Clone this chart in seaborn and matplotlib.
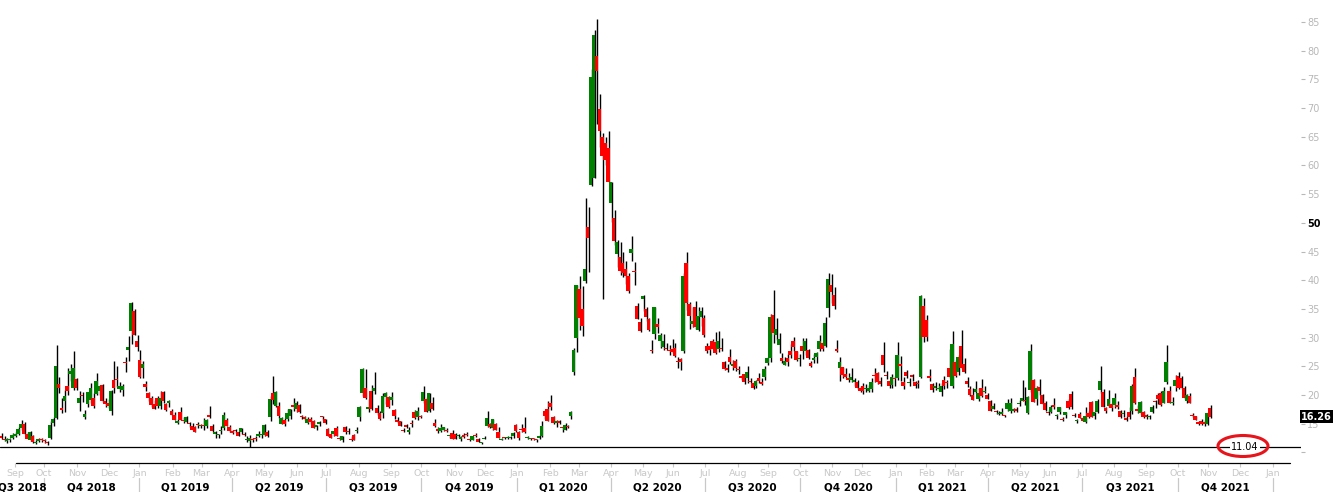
import numpy as np
import pandas as pd
import seaborn as sns
import matplotlib.pyplot as plt
import matplotlib.transforms as mtransforms
from matplotlib.patches import Ellipse
from matplotlib.lines import Line2D

# one candle every second business day, starting 20 Aug 2018
start_date = '2018-08-20'
step = 2

opens = [
    12.8, 12.4, 12.0, 12.2, 12.6,
    12.9, 13.3, 14.2, 14.9, 13.3, 12.1, 12.8, 11.6, 12.0, 12.3,
    12.1, 11.7, 12.5, 15.2, 16.0, 22.0, 17.8, 18.9, 21.6, 23.6, 21.3, 22.8,
    18.6, 20.1, 16.2, 18.4, 19.1, 19.5, 20.2, 20.8, 21.7, 19.0, 18.6,
    17.2, 22.7, 22.8, 21.0, 20.9, 25.8, 27.9, 31.2, 34.6, 29.4,
    26.2, 24.8, 22.0, 20.3, 19.5, 18.5, 19.5, 18.1, 20.5, 18.5, 18.6, 17.2,
    16.6, 15.2, 17.0, 15.6, 15.3, 15.0, 14.6, 14.4, 15.0, 14.6,
    14.8, 14.7, 16.6, 14.7, 13.3, 13.0, 13.7, 14.3, 15.7, 14.4,
    13.7, 14.0, 13.6, 13.5, 13.3, 12.1, 12.0, 12.2, 12.6, 12.9, 13.0,
    13.1, 13.6, 16.1, 20.3, 18.1, 18.1, 15.0, 15.6, 15.9, 16.4, 18.2, 17.6,
    18.3, 16.4, 16.0, 15.2, 15.9, 15.4, 14.4, 15.0, 16.3, 15.8,
    14.1, 13.2, 13.3, 14.2, 12.6, 12.2, 14.4, 13.6, 12.3, 13.1, 13.7,
    16.1, 20.3, 21.3, 17.5, 20.8, 20.8, 17.8, 16.9, 16.8, 19.6, 19.6,
    19.2, 17.4, 15.6, 15.4, 13.8, 14.8, 13.6, 15.2, 17.0, 16.1, 16.3,
    18.9, 19.4, 17.2, 18.6, 15.2, 14.1, 13.8, 14.0, 13.9, 12.8, 13.4,
    13.2, 12.9, 12.4, 13.0, 13.2, 12.4, 12.2, 13.0, 12.3, 11.6, 12.3,
    14.6, 14.9, 14.2, 15.0, 13.6, 12.2, 12.6, 12.5, 12.5, 12.9, 14.8,
    13.5, 14.0, 14.3, 12.5, 12.3, 12.4, 12.2, 12.5, 12.9, 17.2, 17.5,
    18.6, 16.1, 15.1, 15.4, 14.4, 14.0, 14.6, 16.3, 24.0, 30.0,
    38.5, 35.0, 39.9, 49.3, 56.6, 57.8, 79.0, 69.9, 64.9, 64.0, 63.0,
    53.5, 50.9, 44.5, 44.1, 43.0, 41.9, 40.8, 44.7, 41.6, 35.6, 32.8,
    36.8, 35.0, 33.2, 27.9, 30.6, 32.3, 29.4, 28.4, 28.2, 27.8, 28.0,
    28.2, 26.0, 26.3, 27.6, 43.0, 35.8, 32.4, 35.3, 31.4, 33.6, 33.5,
    28.6, 28.5, 29.4, 29.3, 28.0, 28.2, 25.7, 24.8, 26.7, 25.0, 26.0,
    24.6, 23.3, 23.6, 23.0, 22.4, 22.1, 21.6, 23.0, 22.3, 23.2, 25.6,
    26.4, 33.9, 30.4, 28.7, 26.5, 25.3, 26.5, 27.6, 29.5, 27.6, 26.3,
    28.6, 27.7, 27.8, 25.6, 26.1, 26.6, 28.0, 29.0, 28.6, 35.2, 39.2,
    37.5, 28.0, 24.8, 24.9, 23.6, 23.0, 22.7, 22.2, 22.3, 21.3,
    21.5, 21.1, 20.7, 21.0, 23.5, 23.8, 22.5, 27.0, 23.4, 22.5, 21.7, 22.9,
    23.0, 25.5, 22.3, 24.0, 22.1, 23.5, 22.3, 22.0, 23.1, 35.6,
    33.1, 23.4, 21.9, 21.3, 21.1, 20.6, 22.6, 22.3, 24.8, 21.5,
    25.8, 24.1, 28.6, 25.5, 22.5, 21.0, 20.0, 20.5, 19.3, 21.3, 20.6, 20.0,
    18.9, 17.6, 17.3, 16.7, 16.7, 16.5, 17.6, 17.3, 17.2, 17.6, 18.4,
    19.0, 19.2, 16.8, 20.9, 22.7, 19.4, 21.4, 20.1, 18.6, 16.9,
    17.1, 18.1, 16.3, 17.1, 15.7, 16.5, 18.9, 20.2, 16.5, 15.5, 16.7,
    16.0, 15.3, 16.8, 18.8, 16.3, 17.1, 20.9, 20.5, 17.8, 18.1, 18.5,
    18.3, 18.3, 17.2, 16.7, 16.0, 17.0, 17.2, 23.1, 17.6, 16.8, 17.0,
    16.5, 16.2, 17.0, 18.9, 20.1, 20.3, 18.7, 22.3, 20.8, 18.6, 21.5,
    23.3, 22.9, 21.2, 18.9, 19.9, 16.6, 16.3, 15.3, 15.5, 15.3, 15.0,
    17.7,
]

highs = [
    13.4, 12.9, 12.6, 12.6, 13.4,
    13.6, 14.4, 15.6, 15.3, 13.6, 13.7, 13.0, 12.1, 12.6, 12.6,
    12.3, 12.0, 15.5, 16.2, 28.8, 23.2, 19.5, 20.9, 24.8, 25.4, 27.6, 23.0,
    20.7, 20.6, 17.4, 20.6, 22.1, 20.3, 23.8, 21.7, 22.0, 19.5, 19.3,
    20.9, 25.9, 25.0, 22.3, 21.9, 26.6, 30.3, 36.2, 35.0, 30.4,
    27.9, 25.9, 22.5, 20.6, 19.8, 19.1, 19.8, 20.8, 20.8, 18.7, 19.2, 17.6,
    17.1, 15.8, 17.9, 16.1, 16.4, 15.3, 15.1, 14.7, 15.3, 15.0,
    16.0, 15.8, 18.1, 14.9, 13.7, 13.3, 14.6, 17.0, 16.0, 14.8,
    13.9, 14.1, 13.8, 14.3, 13.5, 12.9, 13.0, 12.5, 12.9, 13.7, 13.2,
    14.9, 13.9, 19.8, 23.4, 20.8, 18.8, 16.2, 16.0, 17.6, 17.6, 19.5, 19.0,
    18.5, 16.6, 16.3, 16.1, 16.2, 15.7, 14.8, 15.4, 16.4, 15.9,
    14.3, 13.3, 13.8, 14.6, 12.8, 12.9, 14.6, 14.2, 12.9, 13.2, 14.5,
    18.1, 24.8, 24.6, 19.3, 21.7, 24.1, 18.2, 17.2, 20.4, 20.5, 19.8,
    20.6, 17.5, 16.2, 15.5, 14.2, 15.0, 14.4, 15.6, 17.4, 17.9, 16.6,
    21.5, 19.6, 20.4, 19.6, 15.9, 14.4, 15.0, 14.5, 14.2, 13.2, 14.0,
    13.4, 13.2, 12.8, 13.4, 13.5, 12.5, 12.9, 13.4, 12.5, 11.9, 12.9,
    17.3, 15.1, 15.9, 15.2, 14.5, 12.5, 12.7, 12.9, 12.8, 13.5, 14.9,
    13.7, 15.0, 16.2, 12.8, 12.6, 12.5, 12.4, 13.0, 15.5, 17.4, 19.0,
    20.0, 16.4, 15.6, 15.6, 14.7, 15.1, 14.8, 17.2, 28.2, 39.2,
    40.8, 39.0, 54.4, 52.8, 76.8, 83.6, 85.5, 72.4, 65.7, 65.0, 66.0,
    57.2, 52.3, 47.0, 46.6, 44.9, 43.3, 41.2, 47.8, 43.1, 36.1, 33.4,
    37.5, 35.3, 33.4, 29.6, 35.3, 33.4, 30.9, 30.6, 29.0, 28.8, 29.8,
    29.0, 26.7, 26.4, 41.2, 44.9, 36.3, 35.4, 36.4, 35.4, 35.4, 33.9,
    29.1, 28.7, 29.8, 31.0, 31.1, 29.9, 26.0, 25.4, 28.0, 26.2, 26.3,
    25.0, 23.5, 23.6, 25.0, 23.0, 22.3, 22.7, 23.9, 23.0, 25.0, 26.6,
    34.2, 38.3, 33.5, 30.8, 27.4, 26.6, 27.2, 28.9, 30.2, 27.6, 27.2,
    29.9, 29.9, 28.1, 26.0, 27.1, 27.5, 30.4, 29.2, 33.6, 41.2, 41.1,
    38.9, 29.6, 26.7, 24.9, 24.7, 23.8, 24.7, 23.0, 22.6, 21.5,
    22.1, 21.9, 21.7, 23.0, 24.7, 24.0, 23.2, 29.3, 24.2, 22.6, 23.7, 23.3,
    29.2, 26.8, 23.1, 24.3, 23.0, 23.7, 22.4, 22.6, 37.5, 36.9,
    34.0, 24.5, 22.1, 22.2, 22.1, 22.1, 23.4, 22.6, 28.0, 31.2,
    26.2, 26.9, 31.3, 26.5, 23.1, 21.5, 21.3, 22.4, 21.3, 22.8, 21.5, 20.3,
    19.1, 18.7, 17.4, 17.3, 17.7, 16.6, 19.4, 19.5, 17.7, 18.0, 19.1,
    22.6, 21.4, 19.8, 28.9, 22.8, 21.5, 22.8, 20.2, 18.9, 17.4,
    18.2, 19.5, 16.7, 18.0, 16.1, 17.1, 19.4, 20.7, 16.9, 15.9, 17.0,
    16.2, 17.9, 17.2, 19.0, 17.1, 19.4, 25.1, 21.0, 17.9, 20.9, 18.6,
    20.3, 19.0, 17.4, 17.4, 16.3, 17.9, 22.0, 24.7, 18.2, 19.0, 17.2,
    16.7, 16.6, 18.3, 19.2, 20.3, 20.8, 21.4, 28.8, 21.5, 19.6, 23.5,
    24.1, 23.3, 21.5, 20.2, 20.3, 16.9, 16.4, 15.4, 15.8, 15.6, 17.0,
    18.2,
]

lows = [
    12.4, 12.0, 11.7, 11.9, 12.4,
    12.7, 13.1, 13.9, 13.2, 12.3, 12.0, 11.6, 11.5, 11.9, 11.8,
    11.6, 11.3, 12.4, 14.7, 15.9, 20.3, 16.9, 17.1, 20.1, 22.4, 20.9, 20.9,
    17.3, 18.8, 15.9, 17.9, 18.7, 17.8, 20.0, 20.1, 18.8, 18.0, 17.8,
    16.6, 20.3, 21.4, 20.5, 19.8, 24.1, 25.9, 28.9, 30.4, 27.7,
    23.0, 23.0, 20.7, 19.0, 18.0, 17.5, 17.7, 17.6, 18.6, 17.2, 18.0, 16.5,
    15.6, 14.9, 15.7, 15.1, 15.1, 14.4, 14.0, 13.5, 14.3, 14.2,
    14.0, 14.3, 16.0, 13.6, 12.6, 12.6, 13.2, 13.9, 14.6, 13.6,
    13.2, 13.4, 12.8, 13.2, 12.8, 11.9, 11.0, 11.9, 12.0, 12.7, 12.6,
    12.8, 12.7, 15.4, 18.5, 17.9, 16.0, 14.9, 14.7, 15.5, 15.9, 17.3, 17.0,
    16.9, 15.8, 15.7, 15.0, 15.0, 14.3, 14.0, 14.6, 15.6, 14.9,
    12.9, 12.5, 12.9, 12.9, 12.2, 11.9, 13.3, 13.2, 12.0, 12.2, 13.4,
    15.5, 19.9, 19.4, 17.1, 17.4, 20.2, 16.5, 15.6, 16.0, 18.5, 17.8,
    18.2, 15.8, 15.1, 14.6, 13.5, 14.3, 13.3, 14.5, 15.8, 15.7, 16.0,
    18.6, 17.0, 17.1, 17.4, 14.5, 13.4, 13.5, 13.7, 13.6, 12.6, 12.3,
    12.3, 12.6, 12.0, 12.6, 12.9, 12.0, 12.1, 12.7, 11.8, 11.5, 12.3,
    14.5, 14.3, 13.9, 14.0, 12.5, 12.1, 12.3, 12.4, 12.3, 12.6, 13.6,
    12.2, 13.5, 13.4, 12.4, 12.2, 12.2, 11.9, 12.4, 12.7, 15.9, 15.4,
    17.4, 14.9, 14.5, 14.9, 13.6, 13.9, 14.2, 15.9, 23.5, 27.5,
    31.4, 30.3, 39.6, 41.4, 56.5, 57.8, 67.3, 63.3, 36.8, 60.0, 57.1,
    50.1, 46.2, 42.3, 41.0, 40.5, 39.3, 37.8, 43.3, 39.2, 33.3, 31.0,
    34.6, 32.9, 31.1, 27.4, 29.8, 30.9, 28.2, 27.8, 27.8, 27.0, 27.4,
    26.6, 24.7, 24.3, 27.3, 34.9, 31.5, 31.9, 31.5, 31.1, 32.1, 30.2,
    27.3, 26.9, 28.0, 27.2, 27.5, 27.6, 24.4, 24.1, 25.4, 24.3, 24.2,
    23.7, 22.6, 22.0, 22.1, 22.1, 21.0, 21.2, 22.1, 21.8, 22.6, 25.2,
    25.8, 29.0, 29.6, 27.4, 25.6, 25.2, 25.0, 26.5, 27.7, 25.9, 25.1,
    26.3, 26.9, 26.3, 24.9, 25.6, 25.6, 27.6, 27.6, 28.3, 33.6, 36.0,
    35.0, 27.5, 22.4, 23.0, 22.9, 22.3, 22.3, 21.5, 21.1, 20.6,
    20.2, 20.6, 20.5, 20.6, 22.3, 22.0, 21.5, 24.1, 22.8, 21.3, 21.2, 21.6,
    22.6, 22.4, 21.0, 22.9, 21.5, 22.4, 21.3, 21.2, 22.9, 29.2,
    29.5, 22.4, 20.6, 20.9, 20.9, 19.9, 21.1, 21.2, 22.9, 21.3,
    23.2, 23.5, 24.5, 23.9, 21.4, 19.8, 19.1, 20.3, 18.9, 19.7, 20.3, 19.3,
    17.3, 17.5, 16.7, 16.6, 16.5, 16.1, 17.3, 16.8, 17.1, 17.0, 18.1,
    18.9, 18.3, 16.7, 20.6, 18.8, 18.3, 20.1, 18.4, 17.3, 16.5,
    16.8, 17.6, 15.9, 16.7, 15.5, 16.0, 17.6, 17.6, 16.2, 15.2, 16.0,
    15.4, 15.2, 16.0, 16.1, 15.8, 16.9, 20.4, 17.9, 16.9, 17.9, 17.3,
    17.8, 17.6, 16.0, 16.1, 15.5, 15.8, 16.7, 18.4, 16.8, 16.7, 16.0,
    15.9, 15.8, 16.9, 17.8, 18.5, 18.1, 18.6, 22.0, 18.6, 18.3, 20.8,
    21.0, 21.1, 19.3, 18.7, 18.6, 16.2, 15.6, 14.8, 14.8, 14.7, 14.8,
    16.0,
]

closes = [
    12.6, 12.2, 12.3, 12.4, 13.1,
    13.2, 14.1, 14.9, 13.2, 12.4, 13.6, 11.8, 11.7, 12.4, 12.1,
    12.0, 11.6, 14.8, 15.9, 25.0, 21.3, 17.4, 19.9, 20.7, 24.2, 24.7, 21.2,
    19.5, 19.9, 16.7, 20.5, 21.3, 18.1, 22.5, 21.5, 18.9, 18.5, 18.1,
    20.7, 21.2, 22.6, 21.5, 21.6, 25.6, 28.4, 36.1, 30.4, 28.3,
    23.2, 25.5, 21.4, 19.5, 18.2, 17.6, 18.1, 19.5, 19.0, 17.4, 18.9, 16.6,
    15.7, 15.4, 15.7, 15.4, 16.2, 14.9, 14.0, 13.5, 14.8, 14.8,
    14.6, 15.7, 16.1, 13.8, 13.4, 13.1, 13.9, 16.5, 14.7, 13.7,
    13.4, 13.7, 12.8, 14.3, 13.0, 12.3, 12.6, 12.1, 12.3, 13.3, 13.1,
    14.8, 12.9, 19.3, 19.1, 20.6, 16.4, 16.0, 14.9, 16.9, 17.5, 17.9, 18.7,
    17.0, 16.1, 15.9, 15.9, 15.3, 14.3, 14.8, 15.3, 16.2, 15.1,
    12.9, 12.6, 13.7, 12.9, 12.4, 12.9, 13.5, 13.5, 12.1, 12.2, 13.9,
    17.9, 24.6, 19.5, 18.0, 17.5, 21.2, 16.9, 15.8, 19.9, 20.3, 17.9,
    19.7, 16.3, 15.3, 14.6, 13.7, 14.4, 14.0, 14.9, 16.0, 17.2, 16.2,
    20.6, 17.0, 20.3, 17.6, 14.6, 13.7, 14.3, 14.5, 13.7, 13.1, 12.3,
    12.3, 13.1, 12.7, 12.7, 13.0, 12.1, 12.9, 12.8, 11.9, 11.7, 12.6,
    16.0, 14.5, 15.9, 14.0, 12.6, 12.3, 12.5, 12.6, 12.7, 13.4, 13.8,
    12.5, 13.9, 13.5, 12.6, 12.4, 12.3, 12.1, 12.9, 14.6, 16.3, 15.5,
    18.0, 15.2, 15.5, 15.2, 14.2, 14.8, 14.4, 17.1, 27.9, 39.2,
    33.4, 32.0, 41.9, 47.3, 75.5, 82.7, 76.5, 66.0, 61.7, 61.0, 57.1,
    57.1, 46.8, 46.7, 41.7, 41.2, 40.8, 38.2, 45.4, 41.4, 33.3, 31.2,
    37.2, 33.6, 31.4, 27.6, 35.3, 31.9, 30.5, 29.5, 28.0, 27.6, 27.5,
    26.8, 25.8, 25.8, 40.8, 36.1, 33.7, 32.9, 31.8, 33.8, 34.7, 30.4,
    27.7, 27.9, 28.1, 27.3, 29.5, 28.0, 24.5, 24.3, 25.8, 25.4, 24.8,
    24.3, 23.0, 22.2, 24.0, 22.3, 21.3, 22.5, 22.5, 22.0, 24.5, 26.4,
    33.6, 30.8, 31.5, 29.7, 25.9, 26.0, 25.8, 26.9, 28.4, 26.2, 26.4,
    27.6, 29.5, 26.4, 25.1, 26.4, 27.4, 29.4, 28.1, 32.5, 40.3, 38.0,
    35.6, 27.6, 25.8, 23.5, 23.1, 22.7, 23.1, 22.7, 21.3, 20.8,
    20.8, 21.3, 21.3, 22.3, 23.3, 22.3, 21.9, 25.2, 23.3, 21.5, 23.1, 22.8,
    27.0, 25.1, 21.6, 23.3, 22.2, 23.2, 21.6, 21.9, 37.2, 30.2,
    30.2, 22.9, 20.9, 21.6, 21.3, 21.5, 21.5, 22.1, 23.1, 28.9,
    23.4, 26.7, 24.7, 24.0, 21.9, 20.0, 19.2, 21.0, 20.3, 19.8, 20.7, 19.4,
    17.3, 18.1, 17.0, 16.9, 17.0, 16.3, 18.7, 18.7, 17.6, 17.3, 18.6,
    19.5, 19.0, 19.7, 27.6, 18.8, 21.3, 20.7, 18.4, 17.4, 16.8,
    17.9, 18.0, 16.4, 17.9, 15.6, 17.0, 17.8, 17.9, 16.3, 15.6, 16.0,
    15.5, 16.4, 16.2, 16.2, 17.0, 19.0, 22.5, 17.9, 17.2, 19.4, 17.7,
    19.5, 18.0, 16.2, 16.8, 15.6, 16.1, 21.6, 18.6, 17.2, 18.8, 16.1,
    16.1, 16.4, 18.0, 18.8, 19.4, 18.2, 20.8, 25.7, 18.6, 18.8, 22.6,
    21.2, 21.3, 19.5, 20.0, 18.6, 16.3, 15.7, 15.0, 15.0, 14.9, 16.8,
    16.26,
]

last_close = 16.26
marked_level = 11.04
y_ticks = list(range(10, 90, 5))

sns.set_style('white')
plt.rcParams['font.family'] = ['DejaVu Sans']

n = min(len(opens), len(highs), len(lows), len(closes))
df = pd.DataFrame({
    'pos': np.arange(n) * step,
    'open': opens[:n], 'high': highs[:n], 'low': lows[:n], 'close': closes[:n],
})
df['up'] = df['close'] >= df['open']

# business-day positions, extended to Jan 2022 for the axis
days = pd.bdate_range(start_date, '2022-01-14')
pos = pd.Series(np.arange(len(days)), index=days)
ds = pd.Series(days)
firsts = ds.groupby(ds.dt.to_period('M')).first()
firsts = firsts[firsts >= pd.Timestamp('2018-09-01')]
month_pos = pos[firsts.values].values
month_names = [d.strftime('%b') for d in firsts]

# pixel calibration: Sep 2018 tick at x=15, Nov 2021 tick at x=1208
p_sep = pos[pd.Timestamp('2018-09-03')]
p_nov = pos[pd.Timestamp('2021-11-01')]
b = (1208 - 15) / (p_nov - p_sep)
a = 15 - b * p_sep
W, H = 1337, 492
right_px = 1301
x0, x1 = (0 - a) / b, (right_px - a) / b

fig = plt.figure(figsize=(W / 100, H / 100), dpi=100)
ax = fig.add_axes([0, (H - 463) / H, right_px / W, 463 / H])
ax.set_xlim(x0, x1)
ax.set_ylim(8.17, 88.83)

body_bottom = np.minimum(df['open'], df['close'])
body_h = np.maximum((df['close'] - df['open']).abs(), 0.2)
colors = np.where(df['up'], '#008000', '#ff0000')
ax.vlines(df['pos'] + 0.75, df['low'], df['high'], color='black', lw=1.0, zorder=2)
ax.bar(df['pos'], body_h, bottom=body_bottom, width=2.3, color=colors,
       linewidth=0, zorder=3)

ax.axhline(marked_level, color='black', lw=0.9, zorder=4)

for s in ax.spines.values():
    s.set_visible(False)

# right price axis
ax.yaxis.tick_right()
ax.set_yticks(y_ticks)
ax.set_yticklabels(['' if t == 10 else str(t) for t in y_ticks])
ax.tick_params(axis='y', direction='out', length=3, width=0.8, color='#b8b8b8',
               labelcolor='#b8b8b8', labelsize=7, pad=1.5, left=False, right=True)
for t, tick in zip(y_ticks, ax.yaxis.get_major_ticks()):
    if t == 50:
        tick.tick2line.set_color('black')
        tick.label2.set_color('black')
        tick.label2.set_fontweight('bold')

# month axis
ax.set_xticks(month_pos)
ax.set_xticklabels(month_names)
ax.tick_params(axis='x', direction='out', length=3, width=0.8, color='#c8c8c8',
               labelcolor='#c8c8c8', labelsize=6.8, pad=1.5, bottom=True)

trans = mtransforms.blended_transform_factory(ax.transData, ax.transAxes)
q_starts = [(p, d) for p, d in zip(month_pos, firsts) if d.month in (1, 4, 7, 10)]
edges = [x0] + [p for p, _ in q_starts]
for i, (p, d) in enumerate(q_starts):
    ax.plot([p, p], [-15 / 463, -29 / 463], color='#c8c8c8', lw=0.9,
            transform=trans, clip_on=False)
    prev = d - pd.DateOffset(months=3)
    q = (prev.month - 1) // 3 + 1
    ax.text((edges[i] + p) / 2, -24 / 463, f'Q{q} {prev.year}', transform=trans,
            ha='center', va='center', fontsize=7.5, fontweight='bold', color='black')

fig.add_artist(Line2D([16 / W, 1290 / W], [1 - 463 / H] * 2, color='black', lw=0.9))

# level marker
ax.text((1245 - a) / b, marked_level, f'{marked_level:.2f}', ha='center', va='center',
        fontsize=7, color='black', zorder=6,
        bbox=dict(facecolor='white', edgecolor='none', boxstyle='square,pad=0.1'))
fig.add_artist(Ellipse((1243 / W, 1 - 446 / H), 50 / W, 21 / H, transform=fig.transFigure,
                       fill=False, edgecolor='#e8141c', lw=2.2, zorder=7))

# last price box
ltrans = mtransforms.blended_transform_factory(ax.transAxes, ax.transData)
ax.text(1.0, last_close, f'{last_close:.2f}', transform=ltrans, ha='left', va='center',
        fontsize=7, fontweight='bold', color='white', zorder=8,
        bbox=dict(facecolor='black', edgecolor='none', boxstyle='square,pad=0.15'))

fig.savefig('out.png', dpi=100)
